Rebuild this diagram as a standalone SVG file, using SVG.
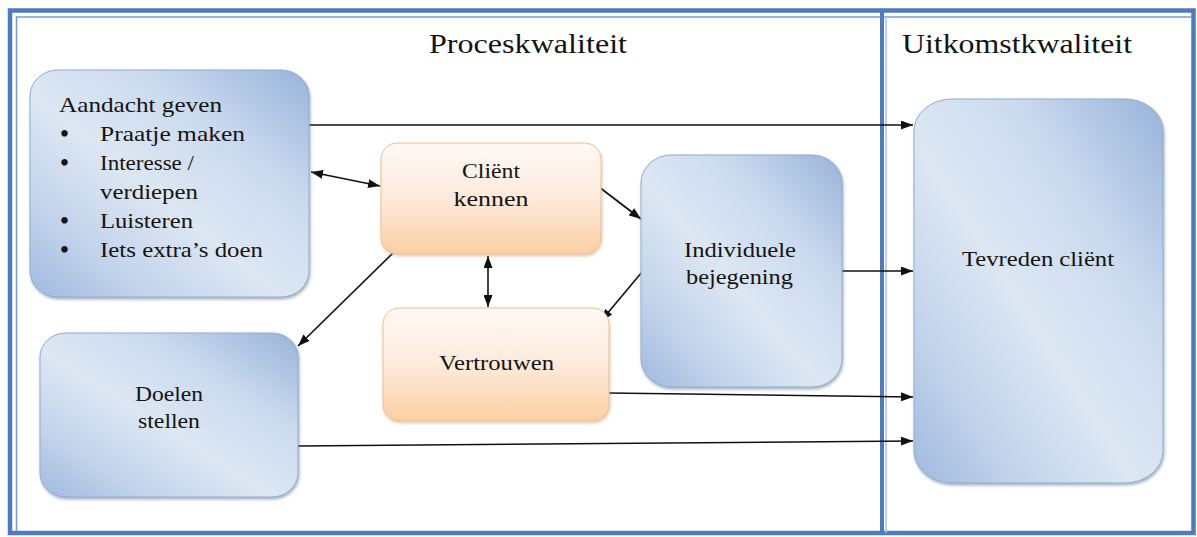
<svg xmlns="http://www.w3.org/2000/svg" width="1197" height="537" viewBox="0 0 1197 537">
  <style>
    .t { font-family: "Liberation Serif", "Times New Roman", serif; fill: #141414; }
    .title { font-size: 27px; }
    .lbl { font-size: 21px; }
    .bul { font-size: 27px; }
    .mid { text-anchor: middle; }
    .blue { fill: url(#gBlue); stroke: #93acd1; stroke-width: 1; filter: url(#shadow); }
    .orange { fill: url(#gOrange); stroke: #efbf93; stroke-width: 1; filter: url(#shadowO); }
    .conn { fill: none; stroke: #111; stroke-width: 1.6; }
  </style>
  <defs>
    <linearGradient id="gBlue" x1="1" y1="0" x2="0" y2="1">
      <stop offset="0" stop-color="#98b3da"/>
      <stop offset="0.3" stop-color="#cbdaee"/>
      <stop offset="0.55" stop-color="#dde7f3"/>
      <stop offset="0.8" stop-color="#c1d2ea"/>
      <stop offset="1" stop-color="#9fb9de"/>
    </linearGradient>
    <linearGradient id="gOrange" x1="0" y1="0" x2="0" y2="1">
      <stop offset="0" stop-color="#fef9f5"/>
      <stop offset="0.5" stop-color="#fdeadb"/>
      <stop offset="1" stop-color="#fbcfa2"/>
    </linearGradient>
    <filter id="shadow" x="-10%" y="-10%" width="120%" height="120%">
      <feDropShadow dx="1" dy="2" stdDeviation="1.5" flood-color="#5d6f8c" flood-opacity="0.55"/>
    </filter>
    <filter id="shadowO" x="-10%" y="-10%" width="120%" height="120%">
      <feDropShadow dx="1" dy="2" stdDeviation="1.5" flood-color="#b08a6a" flood-opacity="0.4"/>
    </filter>
    <marker id="arrow" viewBox="0 0 12 9" refX="12" refY="4.5" markerWidth="12" markerHeight="9" markerUnits="userSpaceOnUse" orient="auto-start-reverse">
      <path d="M0,0 L12,4.5 L0,9 z" fill="#111"/>
    </marker>
  </defs>

  <!-- page background and frame -->
  <rect x="0" y="0" width="1197" height="537" fill="#ffffff"/>
  <g id="frame">
    <rect x="10" y="10.5" width="1183.5" height="522.5" fill="none" stroke="#4f7bbd" stroke-width="4.5"/>
    <polyline points="16.5,531 16.5,17 1191,17" fill="none" stroke="#7b9ccd" stroke-width="1.6"/>
    <line x1="882" y1="12" x2="882" y2="533" stroke="#4f7bbd" stroke-width="4"/>
    <line x1="886" y1="17" x2="886" y2="533" stroke="#a9c1e3" stroke-width="1.5"/>
  </g>

  <!-- section titles -->
  <g id="titles">
    <text class="t title" x="429" y="53" textLength="198" lengthAdjust="spacingAndGlyphs">Proceskwaliteit</text>
    <text class="t title" x="902" y="53" textLength="230" lengthAdjust="spacingAndGlyphs">Uitkomstkwaliteit</text>
  </g>

  <!-- connectors -->
  <g id="connectors">
    <line class="conn" x1="309" y1="125" x2="913" y2="125" marker-end="url(#arrow)"/>
    <line class="conn" x1="311" y1="172" x2="380" y2="186" marker-start="url(#arrow)" marker-end="url(#arrow)"/>
    <line class="conn" x1="393" y1="253" x2="298" y2="346" marker-end="url(#arrow)"/>
    <line class="conn" x1="488" y1="256" x2="488" y2="307" marker-start="url(#arrow)" marker-end="url(#arrow)"/>
    <line class="conn" x1="599" y1="187" x2="641" y2="219" marker-end="url(#arrow)"/>
    <line class="conn" x1="642" y1="272" x2="601" y2="321" marker-end="url(#arrow)"/>
    <line class="conn" x1="842" y1="271" x2="913" y2="271" marker-end="url(#arrow)"/>
    <line class="conn" x1="609" y1="393" x2="913" y2="397" marker-end="url(#arrow)"/>
    <line class="conn" x1="298" y1="446" x2="913" y2="441" marker-end="url(#arrow)"/>
  </g>

  <!-- nodes -->
  <g id="aandacht">
    <rect class="blue" x="30" y="70" width="279" height="227" rx="28" ry="26"/>
    <text class="t lbl" x="59" y="112" textLength="163" lengthAdjust="spacingAndGlyphs">Aandacht geven</text>
    <text class="t bul mid" x="64.5" y="143">•</text>
    <text class="t lbl" x="100" y="141" textLength="145" lengthAdjust="spacingAndGlyphs">Praatje maken</text>
    <text class="t bul mid" x="64.5" y="172">•</text>
    <text class="t lbl" x="100" y="170" textLength="94" lengthAdjust="spacingAndGlyphs">Interesse /</text>
    <text class="t lbl" x="100" y="199" textLength="98" lengthAdjust="spacingAndGlyphs">verdiepen</text>
    <text class="t bul mid" x="64.5" y="230">•</text>
    <text class="t lbl" x="100" y="228" textLength="93" lengthAdjust="spacingAndGlyphs">Luisteren</text>
    <text class="t bul mid" x="64.5" y="259">•</text>
    <text class="t lbl" x="100" y="257" textLength="163" lengthAdjust="spacingAndGlyphs">Iets extra’s doen</text>
  </g>

  <g id="client-kennen">
    <rect class="orange" x="381" y="143" width="220" height="111" rx="16"/>
    <text class="t lbl" x="462" y="178" textLength="58" lengthAdjust="spacingAndGlyphs">Cliënt</text>
    <text class="t lbl" x="453.5" y="206" textLength="75" lengthAdjust="spacingAndGlyphs">kennen</text>
  </g>

  <g id="vertrouwen">
    <rect class="orange" x="383" y="308" width="226" height="113" rx="16"/>
    <text class="t lbl" x="439" y="370" textLength="115" lengthAdjust="spacingAndGlyphs">Vertrouwen</text>
  </g>

  <g id="individuele-bejegening">
    <rect class="blue" x="641" y="155" width="201" height="232" rx="30" ry="28"/>
    <text class="t lbl" x="684" y="257" textLength="112" lengthAdjust="spacingAndGlyphs">Individuele</text>
    <text class="t lbl" x="686" y="284" textLength="107" lengthAdjust="spacingAndGlyphs">bejegening</text>
  </g>

  <g id="doelen-stellen">
    <rect class="blue" x="40" y="333" width="258" height="164" rx="26" ry="24"/>
    <text class="t lbl" x="135" y="401" textLength="68" lengthAdjust="spacingAndGlyphs">Doelen</text>
    <text class="t lbl" x="138" y="428" textLength="62" lengthAdjust="spacingAndGlyphs">stellen</text>
  </g>

  <g id="tevreden-client">
    <rect class="blue" x="914" y="99" width="249" height="384" rx="38" ry="32"/>
    <text class="t lbl" x="962" y="266" textLength="152" lengthAdjust="spacingAndGlyphs">Tevreden cliënt</text>
  </g>
</svg>
